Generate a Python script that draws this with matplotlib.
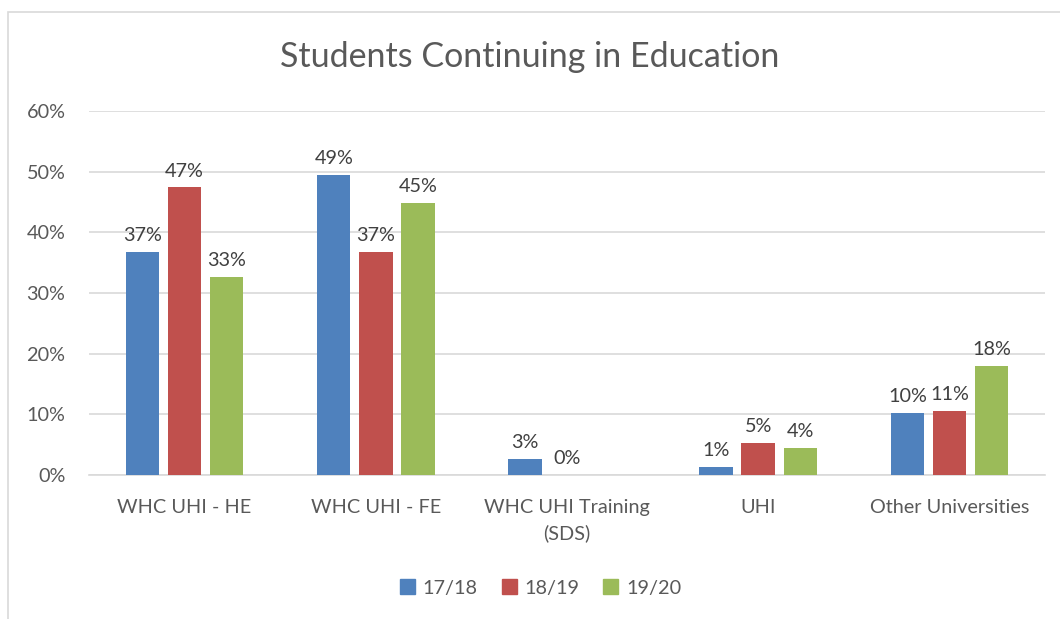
import numpy as np
import matplotlib.pyplot as plt
from matplotlib.patches import Rectangle, Patch
from matplotlib.ticker import PercentFormatter

plt.rcParams['font.family'] = ['Lato', 'DejaVu Sans']

categories = ['WHC UHI - HE', 'WHC UHI - FE', 'WHC UHI Training\n(SDS)', 'UHI', 'Other Universities']
series_names = ['17/18', '18/19', '19/20']
vals_1718 = [36.7, 49.4, 2.6, 1.3, 10.2]
vals_1819 = [47.4, 36.8, 0.0, 5.3, 10.6]
vals_1920 = [32.6, 44.9, None, 4.5, 18.0]
colors = ['#4F81BD', '#C0504D', '#9BBB59']

text_col = '#595959'
grid_col = '#D9D9D9'

fig = plt.figure(figsize=(10.6, 6.19), dpi=100)
ax = fig.add_axes([89 / 1060, 1 - 475 / 619, (1045 - 89) / 1060, (475 - 111) / 619])

# chart border, cut off on right and bottom like the screenshot
fig.patches.append(Rectangle((8 / 1060, -0.05), 1.1, 1 - 12 / 619 + 0.05,
                             transform=fig.transFigure, fill=False,
                             edgecolor=grid_col, linewidth=1.2))

x = np.arange(len(categories))
width = 0.175
step = 0.22
for i, (vals, c) in enumerate(zip([vals_1718, vals_1819, vals_1920], colors)):
    pos = x + (i - 1) * step
    for p, v in zip(pos, vals):
        if v is None:
            continue
        ax.bar(p, v, width, color=c, zorder=3)
        ax.text(p, v + 1.3, f'{v:.0f}%', ha='center', va='bottom',
                fontsize=14.3, color='#404040')

ax.set_xlim(-0.5, len(categories) - 0.5)
ax.set_ylim(0, 60)
ax.set_yticks(np.arange(0, 61, 10))
ax.yaxis.set_major_formatter(PercentFormatter(decimals=0))
ax.set_xticks(x)
ax.set_xticklabels(categories, linespacing=1.6)
ax.grid(axis='y', color=grid_col, linewidth=1.2, zorder=0)
for s in ['top', 'right', 'left']:
    ax.spines[s].set_visible(False)
ax.spines['bottom'].set_color(grid_col)
ax.spines['bottom'].set_linewidth(1.2)
ax.tick_params(length=0, labelsize=14.3, colors=text_col)
ax.tick_params(axis='x', pad=17)
ax.tick_params(axis='y', pad=17)

fig.text(0.5, 1 - 57 / 619, 'Students Continuing in Education', ha='center', va='center',
         fontsize=24.5, color=text_col)

handles = [Patch(color=c, label=n) for c, n in zip(colors, series_names)]
leg = fig.legend(handles=handles, loc='center', bbox_to_anchor=(0.51, 1 - 588 / 619), ncol=3,
                 frameon=False, fontsize=14.3, handlelength=0.75, handleheight=0.75,
                 columnspacing=1.2, handletextpad=0.4)
for t in leg.get_texts():
    t.set_color(text_col)

fig.savefig('out.png', dpi=100)
